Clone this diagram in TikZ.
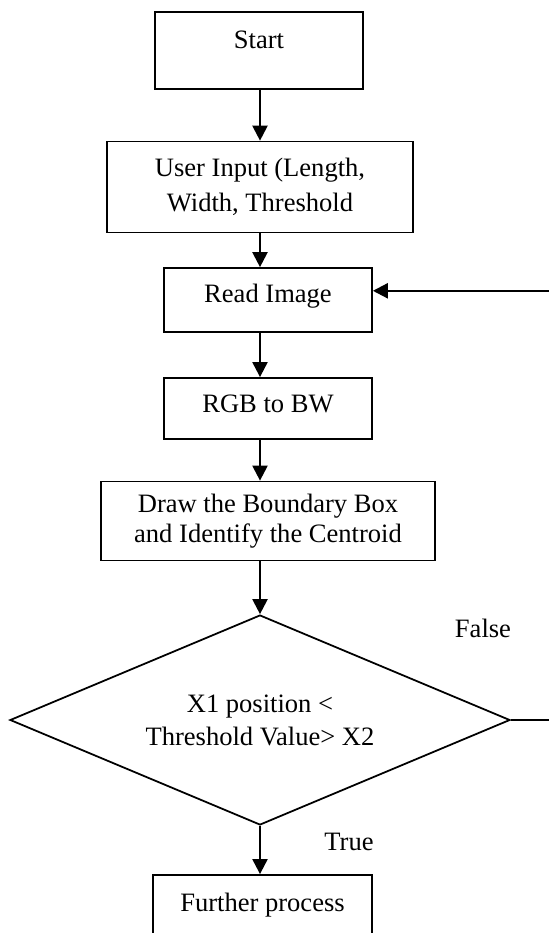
\documentclass[tikz,border=0pt]{standalone}
\usepackage{fontspec}
\setmainfont{Liberation Serif}
\usetikzlibrary{arrows.meta,shapes.geometric,calc}

\tikzset{
  box/.style={draw, line width=0.8pt, align=center, inner sep=0pt, font=\fontsize{12}{15.8}\selectfont},
  decision/.style={draw, diamond, aspect=2.38, line width=0.8pt, align=center, inner sep=0pt,
    minimum width=226pt, minimum height=94.9pt, font=\fontsize{12}{15}\selectfont},
  flow/.style={line width=1pt, -{Triangle[length=6.8pt,width=6.8pt]}},
  tag/.style={font=\fontsize{12}{14}\selectfont}
}

\begin{document}
\begin{tikzpicture}[x=0.452pt, y=-0.452pt]
  \useasboundingbox (0,0) rectangle (549,933);
  \coordinate (axis) at (260,0);

  % process steps
  \node[box, minimum width=94pt, minimum height=34.8pt, text depth=9.5pt] (start) at (259,50.5) {Start};
  \node[box, minimum width=138.3pt, minimum height=41.1pt] (input) at (260,187) {User Input (Length,\\Width, Threshold};
  \node[box, minimum width=94pt, minimum height=28.9pt, text depth=6pt] (read) at (268,300) {Read Image};
  \node[box, minimum width=94pt, minimum height=27.6pt, text depth=4pt] (rgb) at (268,408.5) {RGB to BW};
  \node[box, minimum width=151pt, minimum height=35.7pt, font=\fontsize{12}{13.6}\selectfont] (bbox) at (268,521) {Draw the Boundary Box\\and Identify the Centroid};
  \node[decision] (dec) at (260,720) {X1 position \textless\\Threshold Value\textgreater{} X2};
  \node[box, minimum width=99pt, minimum height=27.6pt, text depth=3pt] (further) at (262.5,905.5) {Further process};

  \node[tag] (falselbl) at (483,628) {False};
  \node[tag] (truelbl) at (349,842) {True};

  % connectors
  \draw[flow] (start.south -| axis) -- (input.north -| axis);
  \draw[flow] (input.south -| axis) -- (read.north -| axis);
  \draw[flow] (read.south -| axis) -- (rgb.north -| axis);
  \draw[flow] (rgb.south -| axis) -- (bbox.north -| axis);
  \draw[flow] (bbox.south -| axis) -- (dec.north);
  \draw[flow] (dec.south) -- (further.north -| axis);
  \draw[flow] (dec.east) -- ++(44,0) |- ($(read.north east)!0.36!(read.south east)$);
\end{tikzpicture}
\end{document}
